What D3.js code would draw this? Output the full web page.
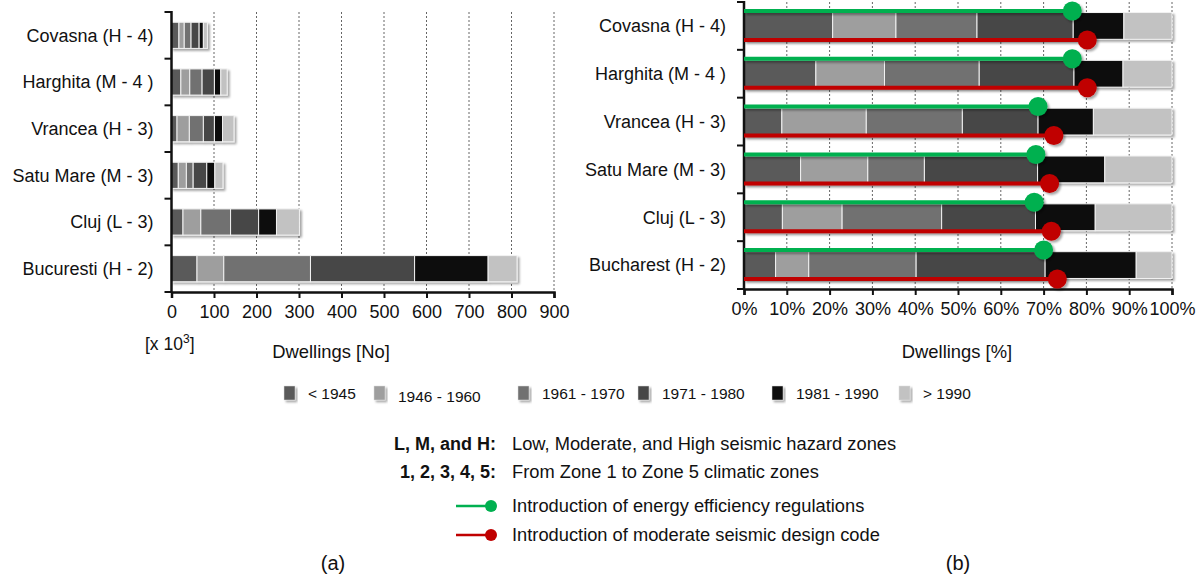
<!DOCTYPE html>
<html>
<head>
<meta charset="utf-8">
<script src="https://cdn.jsdelivr.net/npm/d3@7"></script>
<style>
  body { margin: 0; background: #fff; }
  text { font-family: "Liberation Sans", Arial, sans-serif; fill: #111; }
</style>
</head>
<body>
<svg id="drawing_region"></svg>
<script>
// regions (top to bottom)
const regionsA = ["Covasna (H - 4)", "Harghita (M - 4 )", "Vrancea (H - 3)", "Satu Mare (M - 3)", "Cluj (L - 3)", "Bucuresti (H - 2)"];
const regionsB = ["Covasna (H - 4)", "Harghita (M - 4 )", "Vrancea (H - 3)", "Satu Mare (M - 3)", "Cluj (L - 3)", "Bucharest (H - 2)"];

const periods = ["< 1945", "1946 - 1960", "1961 - 1970", "1971 - 1980", "1981 - 1990", "> 1990"];
const periodColors = ["#5a5a5a", "#9e9e9e", "#717171", "#474747", "#0e0e0e", "#c2c2c2"];

// dwellings, thousands
const before1945 = [17.5, 22, 13, 16, 27, 60];
const from1946 = [12.5, 21, 29, 19, 42, 63];
const from1961 = [16, 29, 33, 16, 70, 204];
const from1971 = [19, 29, 26, 32, 66, 245];
const from1981 = [10, 15, 19, 19, 42, 173];
const after1990 = [9.5, 15, 27, 19, 54, 68];

// year of regulation as share of stock [%]
const energyReg = [76.7, 76.7, 68.7, 68.2, 67.8, 70.0];
const seismicCode = [80.2, 80.2, 72.4, 71.4, 71.8, 73.2];

const ticksA = [0, 100, 200, 300, 400, 500, 600, 700, 800, 900];
const ticksB = [0, .1, .2, .3, .4, .5, .6, .7, .8, .9, 1];

const series = [before1945, from1946, from1961, from1971, from1981, after1990];
const rows = regionsA.map((r, i) => {
    let d = { region: r, label: regionsB[i], energy: energyReg[i] / 100, seismic: seismicCode[i] / 100 };
    periods.forEach((p, j) => d[p] = series[j][i]);
    return d;
});

const svg = d3.select('#drawing_region')
    .attr('width', 1197)
    .attr('height', 574);

const defs = svg.append('defs');
defs.append('filter').attr('id', 'shadow')
    .attr('x', '-10%').attr('y', '-30%').attr('width', '130%').attr('height', '170%')
    .append('feDropShadow')
    .attr('dx', 2).attr('dy', 2).attr('stdDeviation', 1.3)
    .attr('flood-color', '#000').attr('flood-opacity', 0.35);

const color = d3.scaleOrdinal().domain(periods).range(periodColors);

function drawPanel(opt) {
    const x = d3.scaleLinear().domain(opt.domain).range(opt.xRange);
    const y = d3.scaleBand().domain(opt.cats).range(opt.yRange)
        .paddingInner(0.44).paddingOuter(0.22);
    const g = svg.append('g');
    const bottom = opt.yRange[1], top = opt.yRange[0];

    // dashed grid
    g.selectAll('.grid')
        .data(opt.ticks.slice(1))
        .join('line')
        .attr('x1', d => x(d)).attr('x2', d => x(d))
        .attr('y1', top).attr('y2', bottom)
        .attr('stroke', '#666').attr('stroke-width', 1)
        .attr('stroke-dasharray', '2,2');

    const stack = d3.stack().keys(periods);
    if (opt.expand) stack.offset(d3.stackOffsetExpand);
    const layers = stack(rows);

    g.append('g').attr('filter', 'url(#shadow)')
        .selectAll('g')
        .data(layers)
        .join('g')
        .attr('fill', d => color(d.key))
        .selectAll('rect')
        .data(d => d)
        .join('rect')
        .attr('x', d => x(d[0]))
        .attr('y', d => y(d.data[opt.key]))
        .attr('width', d => x(d[1]) - x(d[0]))
        .attr('height', y.bandwidth())
        .attr('stroke', '#f2f2f2')
        .attr('stroke-width', 1);

    // axes
    const xAxis = d3.axisBottom(x).tickValues(opt.ticks).tickSize(6).tickFormat(opt.format);
    g.append('g').attr('transform', `translate(0,${bottom})`).call(xAxis)
        .call(a => a.select('.domain').attr('stroke-width', 2.5).attr('stroke', '#111'))
        .call(a => a.selectAll('.tick line').attr('stroke-width', 2).attr('stroke', '#111'))
        .call(a => a.selectAll('.tick text').attr('y', 13).style('font-size', '18px').attr('fill', '#111'));

    const edges = opt.cats.map(c => y(c) - y.step() * y.paddingInner() / 2);
    edges[0] = top;
    edges.push(bottom);
    g.selectAll('.ytick')
        .data(edges)
        .join('line')
        .attr('x1', opt.xRange[0] - 7).attr('x2', opt.xRange[0])
        .attr('y1', d => d).attr('y2', d => d)
        .attr('stroke', '#111').attr('stroke-width', 2);
    g.append('line')
        .attr('x1', opt.xRange[0]).attr('x2', opt.xRange[0])
        .attr('y1', top - 1).attr('y2', bottom + 1)
        .attr('stroke', '#111').attr('stroke-width', 2.5);

    g.selectAll('.cat')
        .data(rows)
        .join('text')
        .attr('x', opt.xRange[0] - 18)
        .attr('y', d => y(d[opt.key]) + y.bandwidth() / 2)
        .attr('dy', '0.35em')
        .attr('text-anchor', 'end')
        .style('font-size', '18px')
        .text(d => d[opt.key]);

    return { x, y, g };
}

// (a) absolute numbers
const pa = drawPanel({
    domain: [0, 900], xRange: [171.5, 554], yRange: [12, 292],
    cats: regionsA, key: 'region', ticks: ticksA, format: d3.format('d'), expand: false
});

// (b) shares
const pb = drawPanel({
    domain: [0, 1], xRange: [744, 1172], yRange: [2, 289],
    cats: regionsB, key: 'label', ticks: ticksB, format: d3.format('.0%'), expand: true
});

// regulation markers on (b)
const markers = [
    { key: 'energy', col: '#00b050', off: -15 },
    { key: 'seismic', col: '#c00000', off: 14 }
];
markers.forEach(m => {
    const mg = pb.g.append('g').attr('filter', 'url(#shadow)');
    rows.forEach(d => {
        const cy = pb.y(d.label) + pb.y.bandwidth() / 2 + m.off;
        mg.append('line')
            .attr('x1', pb.x(0)).attr('x2', pb.x(d[m.key]))
            .attr('y1', cy).attr('y2', cy)
            .attr('stroke', m.col).attr('stroke-width', 4);
        mg.append('circle')
            .attr('cx', pb.x(d[m.key])).attr('cy', cy).attr('r', 9.5)
            .attr('fill', m.col);
    });
});

// axis titles
const unit = svg.append('text').attr('x', 145).attr('y', 350).style('font-size', '17.5px');
unit.append('tspan').text('[x 10');
unit.append('tspan').attr('dy', -7).style('font-size', '12px').text('3');
unit.append('tspan').attr('dy', 7).text(']');
svg.append('text').attr('x', 331).attr('y', 358).attr('text-anchor', 'middle')
    .style('font-size', '18.4px').text('Dwellings [No]');
svg.append('text').attr('x', 957).attr('y', 358).attr('text-anchor', 'middle')
    .style('font-size', '18.4px').text('Dwellings [%]');

// period legend
const legendX = [284, 374, 518, 638, 772, 899];
const lg = svg.append('g');
periods.forEach((p, i) => {
    lg.append('rect')
        .attr('x', legendX[i]).attr('y', 386).attr('width', 11).attr('height', 14)
        .attr('fill', color(p)).attr('stroke', '#ddd').attr('stroke-width', 0.5)
        .attr('filter', 'url(#shadow)');
    lg.append('text')
        .attr('x', legendX[i] + 24).attr('y', 399 + (i === 1 ? 3 : 0))
        .style('font-size', '15.5px')
        .text(p);
});

// notes
const notes = [
    { head: 'L, M, and H:', body: 'Low, Moderate, and High seismic hazard zones', y: 450 },
    { head: '1, 2, 3, 4, 5:', body: 'From Zone 1 to Zone 5 climatic zones', y: 478 }
];
notes.forEach(n => {
    svg.append('text').attr('x', 496).attr('y', n.y).attr('text-anchor', 'end')
        .style('font-size', '18px').style('font-weight', 'bold').text(n.head);
    svg.append('text').attr('x', 512).attr('y', n.y)
        .style('font-size', '18.3px').text(n.body);
});
const keyItems = [
    { col: '#00b050', text: 'Introduction of energy efficiency regulations', y: 506 },
    { col: '#c00000', text: 'Introduction of moderate seismic design code', y: 535 }
];
keyItems.forEach(k => {
    svg.append('line').attr('x1', 456).attr('x2', 491).attr('y1', k.y).attr('y2', k.y)
        .attr('stroke', k.col).attr('stroke-width', 2.5);
    svg.append('circle').attr('cx', 491).attr('cy', k.y).attr('r', 6).attr('fill', k.col);
    svg.append('text').attr('x', 512).attr('y', k.y).attr('dy', '0.35em')
        .style('font-size', '18.3px').text(k.text);
});

svg.append('text').attr('x', 333).attr('y', 570).attr('text-anchor', 'middle')
    .style('font-size', '20px').text('(a)');
svg.append('text').attr('x', 958).attr('y', 570).attr('text-anchor', 'middle')
    .style('font-size', '20px').text('(b)');
</script>
</body>
</html>
